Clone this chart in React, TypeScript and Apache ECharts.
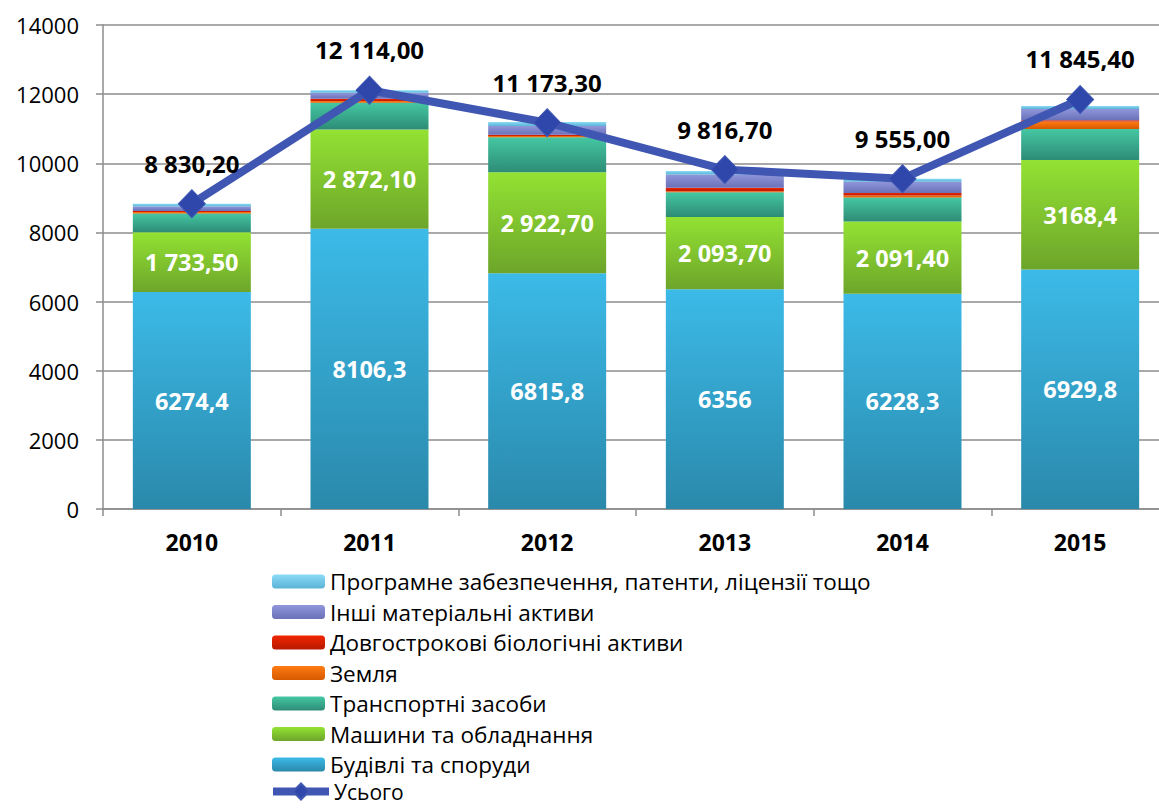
import React, { useEffect, useRef } from "react";
import * as echarts from "echarts";

const years = ["2010", "2011", "2012", "2013", "2014", "2015"];
const buildings = [6274.4, 8106.3, 6815.8, 6356, 6228.3, 6929.8];
const machines = [1733.5, 2872.1, 2922.7, 2093.7, 2091.4, 3168.4];
const transport = [540, 770, 1012, 713, 694, 897];
const land = [40, 50, 38, 30, 58, 212];
const bio = [35, 70, 38, 100, 67, 38];
const otherTangible = [130, 170, 250, 386, 328, 328];
const software = [77, 76, 116, 96, 87, 87];
const total = [8830.2, 12114, 11173.3, 9816.7, 9555, 11845.4];

const buildingLabels = ["6274,4", "8106,3", "6815,8", "6356", "6228,3", "6929,8"];
const machineLabels = ["1 733,50", "2 872,10", "2 922,70", "2 093,70", "2 091,40", "3168,4"];
const totalLabels = ["8 830,20", "12 114,00", "11 173,30", "9 816,70", "9 555,00", "11 845,40"];

const yTicks = { min: 0, max: 14000, interval: 2000 };

const names = {
  software: "Програмне забезпечення, патенти, ліцензії тощо",
  other: "Інші матеріальні активи",
  bio: "Довгострокові біологічні активи",
  land: "Земля",
  transport: "Транспортні засоби",
  machines: "Машини та обладнання",
  buildings: "Будівлі та споруди",
  total: "Усього",
};

const FONT = "'Open Sans', 'Noto Sans', sans-serif";

const grad = (top: string, bottom: string) => ({
  type: "linear",
  x: 0,
  y: 0,
  x2: 0,
  y2: 1,
  colorStops: [
    { offset: 0, color: top },
    { offset: 1, color: bottom },
  ],
});

export default function App() {
  const ref = useRef<HTMLDivElement>(null);

  useEffect(() => {
    if (!ref.current) return;
    const chart = echarts.init(ref.current, undefined, { renderer: "svg" });

    const barBase = {
      type: "bar",
      stack: "a",
      barWidth: 118,
      emphasis: { disabled: true },
    };

    const insideLabel = (arr: string[]) => ({
      show: true,
      position: "inside",
      color: "#ffffff",
      fontFamily: FONT,
      fontWeight: "bold",
      fontSize: 23.5,
      formatter: (p: any) => arr[p.dataIndex],
    });

    const legendText = { fontSize: 22.5, color: "#000", fontFamily: FONT };

    const option: any = {
      animation: false,
      backgroundColor: "#ffffff",
      textStyle: { fontFamily: FONT },
      grid: {
        left: 103,
        right: -10,
        top: 25,
        bottom: 300,
        containLabel: false,
        outerBoundsMode: "none",
      },
      legend: [
        {
          orient: "vertical",
          left: 272,
          top: 570,
          padding: 0,
          itemWidth: 53,
          itemHeight: 14,
          itemGap: 7.5,
          selectedMode: false,
          textStyle: legendText,
          data: [
            names.software,
            names.other,
            names.bio,
            names.land,
            names.transport,
            names.machines,
            names.buildings,
          ],
        },
        {
          orient: "vertical",
          left: 269,
          top: 781,
          padding: 0,
          itemWidth: 56,
          itemHeight: 20,
          selectedMode: false,
          textStyle: { ...legendText, fontSize: 21 },
          lineStyle: { width: 8 },
          data: [names.total],
        },
      ],
      xAxis: {
        type: "category",
        data: years,
        axisLine: { show: true, lineStyle: { color: "#8c8c8c", width: 1.5 } },
        axisTick: { show: true, length: 7, lineStyle: { color: "#8c8c8c", width: 1.5 } },
        axisLabel: {
          color: "#000",
          fontSize: 23,
          fontWeight: "bold",
          fontFamily: FONT,
          margin: 21,
        },
      },
      yAxis: {
        type: "value",
        min: yTicks.min,
        max: yTicks.max,
        interval: yTicks.interval,
        axisLine: { show: true, lineStyle: { color: "#8c8c8c", width: 1.5 } },
        axisTick: { show: true, length: 7, lineStyle: { color: "#8c8c8c", width: 1.5 } },
        splitLine: { show: true, lineStyle: { color: "#8c8c8c", width: 1.5 } },
        axisLabel: {
          color: "#000",
          fontSize: 22,
          fontFamily: FONT,
          margin: 24,
          formatter: (v: number) => String(v),
        },
      },
      series: [
        {
          ...barBase,
          name: names.buildings,
          data: buildings,
          itemStyle: { color: grad("#3cbae8", "#2a89ab") },
          label: insideLabel(buildingLabels),
        },
        {
          ...barBase,
          name: names.machines,
          data: machines,
          itemStyle: { color: grad("#93e233", "#6da52a") },
          label: insideLabel(machineLabels),
        },
        {
          ...barBase,
          name: names.transport,
          data: transport,
          itemStyle: { color: grad("#45c7a3", "#2d8c76") },
        },
        {
          ...barBase,
          name: names.land,
          data: land,
          itemStyle: { color: grad("#ff7a12", "#d65a00") },
        },
        {
          ...barBase,
          name: names.bio,
          data: bio,
          itemStyle: { color: grad("#f02600", "#b81800") },
        },
        {
          ...barBase,
          name: names.other,
          data: otherTangible,
          itemStyle: { color: grad("#9096da", "#6b71b8") },
        },
        {
          ...barBase,
          name: names.software,
          data: software,
          itemStyle: { color: grad("#8adbf7", "#5bb3d6") },
        },
        {
          type: "line",
          name: names.total,
          data: total,
          z: 10,
          symbol: "diamond",
          symbolSize: [27, 28],
          lineStyle: { color: "#3f56b2", width: 8 },
          itemStyle: { color: "#2f46aa", borderColor: "#3f56b2", borderWidth: 1 },
          emphasis: { disabled: true },
          label: {
            show: true,
            position: "top",
            distance: 14,
            color: "#000",
            fontFamily: FONT,
            fontWeight: "bold",
            fontSize: 24,
            formatter: (p: any) => totalLabels[p.dataIndex],
          },
        },
      ],
    };

    chart.setOption(option);
    return () => chart.dispose();
  }, []);

  return (
    <div
      ref={ref}
      style={{ position: "fixed", left: 0, top: 0, width: 1159, height: 809, background: "#fff" }}
    />
  );
}
